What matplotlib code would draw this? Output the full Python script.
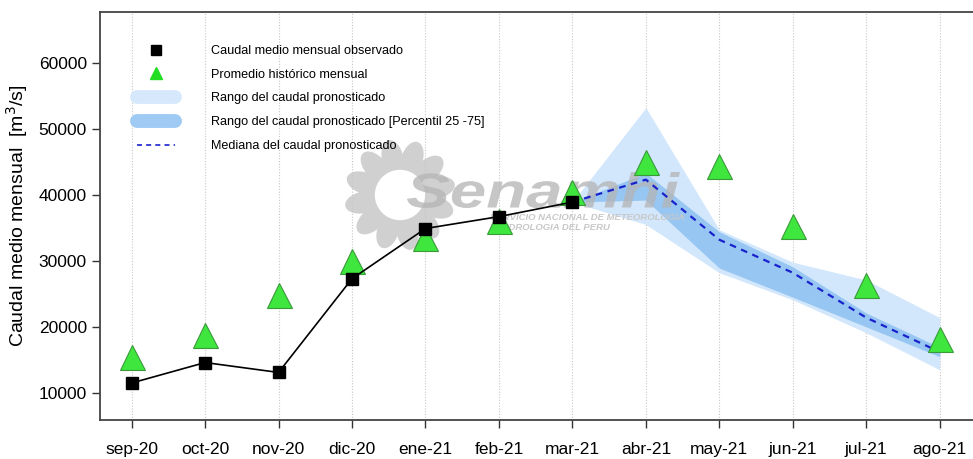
import matplotlib
matplotlib.use("Agg")
import matplotlib.pyplot as plt
from matplotlib.lines import Line2D
from matplotlib.patches import Ellipse, Circle, PathPatch
from matplotlib.textpath import TextPath
from matplotlib.font_manager import FontProperties
from matplotlib.transforms import Affine2D
import numpy as np

plt.rcParams['font.family'] = ['Liberation Sans', 'DejaVu Sans']

months = ["sep-20", "oct-20", "nov-20", "dic-20", "ene-21", "feb-21",
          "mar-21", "abr-21", "may-21", "jun-21", "jul-21", "ago-21"]
observed = [11500, 14600, 13100, 27300, 34900, 36700, 38900]
historical = [15500, 18700, 24800, 30000, 33500, 36000, 40500,
              45000, 44300, 35300, 26400, 18200]
# forecast from mar-21 to ago-21
fc_months = ["mar-21", "abr-21", "may-21", "jun-21", "jul-21", "ago-21"]
fc_min = [38900, 35500, 28200, 24100, 19100, 13500]
fc_max = [38900, 53200, 34700, 29800, 27100, 21400]
fc_p25 = [38900, 39200, 28900, 24500, 20000, 15500]
fc_p75 = [38900, 43300, 34400, 29100, 22100, 16900]
fc_med = [38900, 42300, 33200, 28200, 21400, 16200]

W, H = 973, 459
fig = plt.figure(figsize=(W / 100, H / 100), dpi=100)
ax = fig.add_axes([0.1028, 0.085, 0.897, 0.889])
ax.patch.set_alpha(0)

# watermark sun logo (decorative) in its own axes behind the plot
lax = fig.add_axes([340 / W, 1 - 255 / H, 120 / W, 120 / H], zorder=-1)
lax.set_xlim(-1, 1)
lax.set_ylim(-1, 1)
lax.set_aspect("equal")
lax.axis("off")
for ang in np.linspace(0, 2 * np.pi, 13)[:-1] + 0.2:
    e = Ellipse((0.62 * np.cos(ang), 0.62 * np.sin(ang)), 0.62, 0.36,
                angle=np.degrees(ang), color="#d0d0d0", lw=0)
    lax.add_patch(e)
lax.add_patch(Circle((0, 0), 0.62, color="#d0d0d0", lw=0))
lax.add_patch(Circle((0, 0), 0.42, color="white", lw=0))

x = np.arange(len(months))
xo = np.arange(len(observed))
xf = np.array([months.index(m) for m in fc_months])

for xi in x:
    ax.axvline(xi, color="#c8c8c8", lw=0.8, ls=(0, (1, 1.5)), zorder=0)

ax.fill_between(xf, fc_min, fc_max, color="#d2e7fc", lw=0, zorder=2)
ax.fill_between(xf, fc_p25, fc_p75, color="#97c6f3", lw=0, zorder=3)

# watermark word, stretched to the logo's wide lettering
tp = TextPath((0, 0), "Senamhi", size=1,
              prop=FontProperties(family="Liberation Sans", weight="bold",
                                  style="italic"))
ext = tp.get_extents()
sx = 273 / ext.width
sy = 36 / ext.height
tr = Affine2D().translate(-ext.x0, -ext.y0).scale(sx, sy).translate(407, H - 208)
ax.add_patch(PathPatch(tp, transform=tr, facecolor="#b4b4b4", edgecolor="none",
                       alpha=0.75, zorder=3.5))
ax.text(490 / W, 1 - 218 / H, "SERVICIO NACIONAL DE METEOROLOGIA",
        transform=fig.transFigure, fontsize=6.8, fontweight="bold",
        style="italic", color="#c8c8c8", ha="left", va="center", zorder=3.5)
ax.text(490 / W, 1 - 228 / H, "E HIDROLOGIA DEL PERU",
        transform=fig.transFigure, fontsize=6.8, fontweight="bold",
        style="italic", color="#c8c8c8", ha="left", va="center", zorder=3.5)

ax.plot(xf, fc_med, color="#1a22cc", lw=1.6, ls=(0, (3, 2.5)), zorder=4)

ax.plot(x, historical, ls="none", marker="^", ms=18, mfc="#3ee63e",
        mec="#3a9a3a", mew=0.8, zorder=5)
ax.plot(xo, observed, color="black", lw=1.2, marker="s", ms=8,
        mfc="black", mec="black", zorder=6)

ax.set_xlim(-0.43, 11.45)
ax.set_ylim(5900, 67700)
ax.set_xticks(x)
ax.set_xticklabels(months)
ax.set_yticks([10000, 20000, 30000, 40000, 50000, 60000])
ax.tick_params(axis="both", direction="out", length=6, width=1,
               labelsize=12.5, color="#333333")
ax.tick_params(axis="x", pad=10)
ax.spines["right"].set_visible(False)
for s in ["left", "bottom", "top"]:
    ax.spines[s].set_color("#444444")
    ax.spines[s].set_linewidth(1.3)
ax.set_ylabel("Caudal medio mensual  [m$^3$/s]", fontsize=14, labelpad=6)

handles = [
    Line2D([], [], ls="none", marker="s", ms=7, color="black"),
    Line2D([], [], ls="none", marker="^", ms=8, mfc="#22dd22", mec="#22dd22"),
    Line2D([], [], color="#d6e9fc", lw=10, solid_capstyle="round"),
    Line2D([], [], color="#9fcaf4", lw=10, solid_capstyle="round"),
    Line2D([], [], color="#1a22cc", lw=1.2, ls=(0, (3, 2.5))),
]
labels = ["Caudal medio mensual observado", "Promedio histórico mensual",
          "Rango del caudal pronosticado",
          "Rango del caudal pronosticado [Percentil 25 -75]",
          "Mediana del caudal pronosticado"]
leg = ax.legend(handles, labels, loc="upper left", bbox_to_anchor=(0.029, 0.947),
                frameon=False, fontsize=9.1, handlelength=3.0, handletextpad=2.9,
                labelspacing=0.93)

fig.savefig("out.png", dpi=100)
